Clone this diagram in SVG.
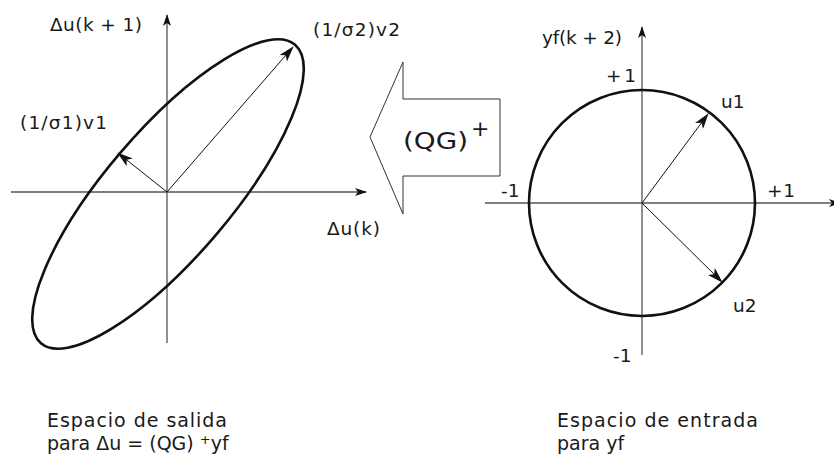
<svg xmlns="http://www.w3.org/2000/svg" width="834" height="466" viewBox="0 0 834 466">
<style>
text{font-family:"DejaVu Sans","Open Sans",sans-serif;fill:#1a1a1a}
.lbl{font-size:18.5px}
.big{font-size:19px}
.axis{stroke:#555;stroke-width:1.3;fill:none}
.vec{stroke:#111;stroke-width:1;fill:none}
.curve{stroke:#111;stroke-width:2.6;fill:none}
</style>
<defs>
<marker id="ah" viewBox="0 0 12 8" refX="11" refY="4" markerWidth="12" markerHeight="8" markerUnits="userSpaceOnUse" orient="auto">
<path d="M0,0 L12,4 L0,8 L3,4 z" fill="#111"/>
</marker>
<marker id="ahv" viewBox="0 0 16 10" refX="15" refY="5" markerWidth="16" markerHeight="10" markerUnits="userSpaceOnUse" orient="auto">
<path d="M0,0 L16,5 L0,10 L4,5 z" fill="#111"/>
</marker>
</defs>
<g id="connectors">
<line class="axis" x1="167" y1="343" x2="167" y2="15" marker-end="url(#ah)"/>
<line class="axis" x1="11" y1="192" x2="366" y2="192" marker-end="url(#ah)"/>
<line class="vec" x1="167" y1="192" x2="293" y2="47" marker-end="url(#ahv)"/>
<line class="vec" x1="167" y1="192" x2="118" y2="153" marker-end="url(#ahv)"/>
<line class="axis" x1="642" y1="355" x2="642" y2="27" marker-end="url(#ah)"/>
<line class="axis" x1="485" y1="203" x2="840" y2="203" marker-end="url(#ah)"/>
<line class="vec" x1="642" y1="203" x2="708" y2="114" marker-end="url(#ahv)"/>
<line class="vec" x1="642" y1="203" x2="722" y2="282" marker-end="url(#ahv)"/>
</g>
<g id="ellipse">
<ellipse class="curve" cx="168" cy="194" rx="196" ry="63" transform="rotate(-49.6 168 194)"/>
</g>
<g id="circle">
<circle class="curve" cx="642" cy="203" r="113"/>
</g>
<g id="big-arrow">
<path d="M403,62 L403,99 L500,99 L500,176 L403,176 L403,214 L370,137 Z" fill="#fff" stroke="#333" stroke-width="1"/>
<text x="403" y="149" font-size="23" textLength="65" lengthAdjust="spacingAndGlyphs">(QG)</text>
<text x="471" y="136" font-size="22">+</text>
</g>
<g id="labels-left">
<text class="lbl" x="50" y="31" textLength="92">Δu(k + 1)</text>
<text class="lbl" x="313" y="36" textLength="87">(1/σ2)v2</text>
<text class="lbl" x="20" y="129" textLength="87">(1/σ1)v1</text>
<text class="lbl" x="327" y="235" textLength="53">Δu(k)</text>
</g>
<g id="labels-right">
<text class="lbl" x="542" y="44" textLength="80">yf(k + 2)</text>
<text class="lbl" x="606" y="82" textLength="30">+ 1</text>
<text class="lbl" x="721" y="108">u1</text>
<text class="lbl" x="501" y="197">-1</text>
<text class="lbl" x="767" y="197" textLength="28">+ 1</text>
<text class="lbl" x="733" y="312">u2</text>
<text class="lbl" x="613" y="362">-1</text>
</g>
<g id="captions">
<text class="big" x="47" y="427" textLength="180">Espacio de salida</text>
<text class="big" x="47" y="450">para Δu = (QG) <tspan font-size="13" dy="-6">+</tspan><tspan dy="6">yf</tspan></text>
<text class="big" x="557" y="427" textLength="201">Espacio de entrada</text>
<text class="big" x="557" y="450">para yf</text>
</g>
</svg>
